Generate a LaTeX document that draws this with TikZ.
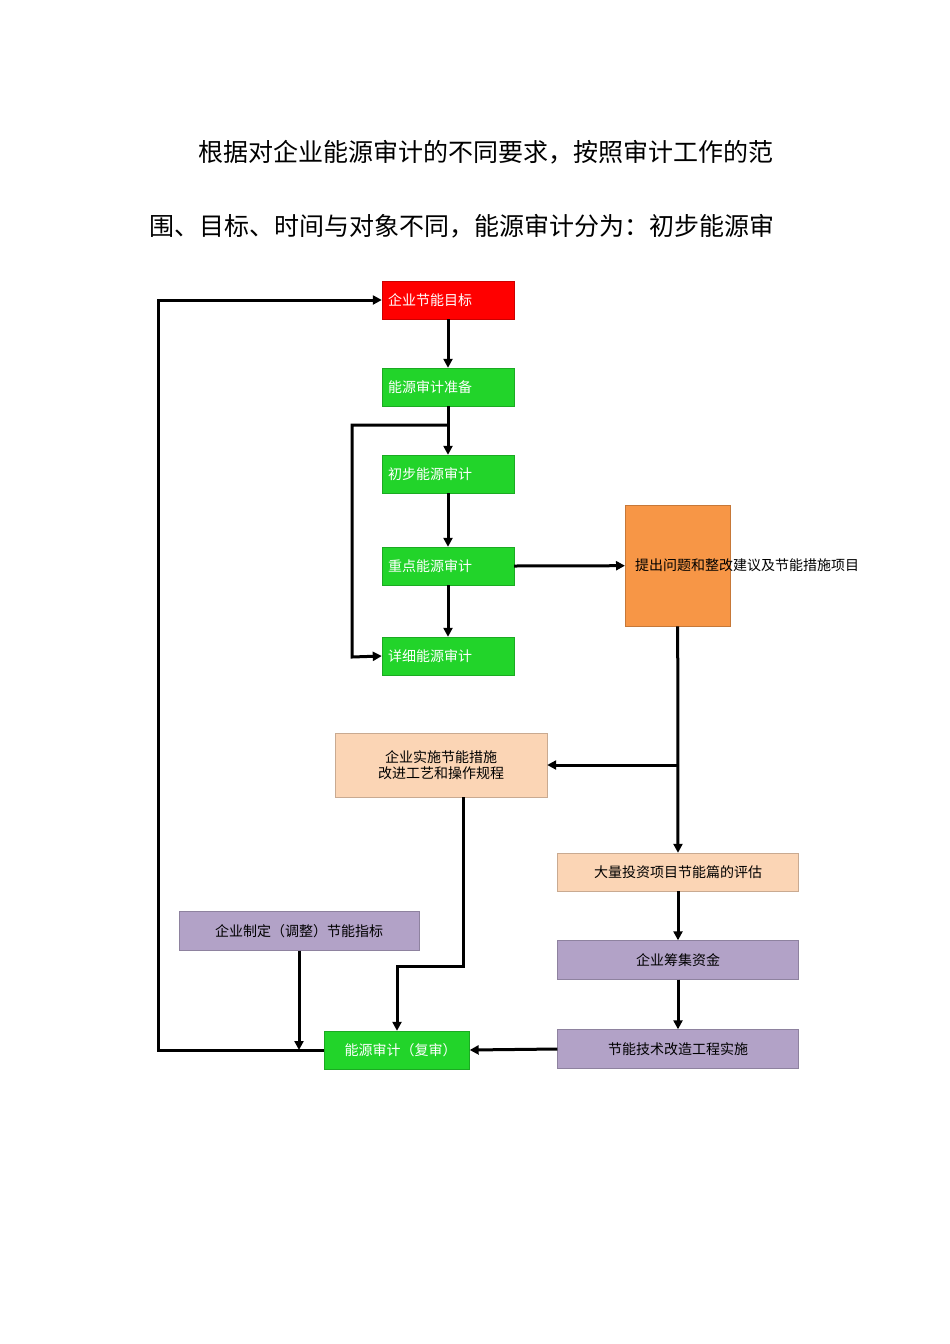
\documentclass[tikz,border=0pt]{standalone}
\usepackage{fontspec}
\setmainfont{Noto Sans CJK SC}
\usetikzlibrary{arrows.meta}
\definecolor{gr}{HTML}{22D42A}
\definecolor{rd}{HTML}{FF0000}
\definecolor{org}{HTML}{F79646}
\definecolor{pch}{HTML}{FBD5B5}
\definecolor{pur}{HTML}{B2A2C7}
\begin{document}
\begin{tikzpicture}[x=1pt,y=-1pt,
 box/.style={draw=#1!80!black,line width=0.4pt,fill=#1,minimum height=38pt,inner sep=3pt,font=\fontsize{14}{16}\selectfont},
 gbox/.style={box=gr,minimum width=132pt,text=white,text width=120pt,align=left},
 arr/.style={line width=3pt,-{Triangle[length=9pt,width=9pt]}},
 ln/.style={line width=3pt}]
\useasboundingbox (0,0) rectangle (950,1344);
\node[anchor=west,font=\fontsize{25}{28}\selectfont] (t1) at (195,152) {根据对企业能源审计的不同要求，按照审计工作的范};
\node[anchor=west,font=\fontsize{25}{28}\selectfont] (t2) at (146,226) {围、目标、时间与对象不同，能源审计分为：初步能源审};
\node[gbox,box=rd,minimum width=132pt,text=white] (a) at (448,300) {企业节能目标};
\node[gbox] (b) at (448,387) {能源审计准备};
\node[gbox] (c) at (448,474) {初步能源审计};
\node[gbox] (d) at (448,566) {重点能源审计};
\node[gbox] (e) at (448,656) {详细能源审计};
\node[box=org,minimum width=105pt,minimum height=121pt,text width=85pt,align=left,anchor=north west,font=\fontsize{14}{18}\selectfont] (f) at (625,505) {提出问题和整改建议及节能措施项目};
\node[box=pch,minimum width=212pt,minimum height=64pt,align=center,text width=200pt] (g) at (441,765) {企业实施节能措施\\改进工艺和操作规程};
\node[box=pch,minimum width=241pt,minimum height=38pt] (h) at (678,872) {大量投资项目节能篇的评估};
\node[box=pur,minimum width=240pt,minimum height=39pt] (i) at (299,931) {企业制定（调整）节能指标};
\node[box=pur,minimum width=241pt,minimum height=39pt] (j) at (678,960) {企业筹集资金};
\node[box=pur,minimum width=241pt,minimum height=39pt] (k) at (678,1049) {节能技术改造工程实施};
\node[box=gr,minimum width=145pt,minimum height=38pt,text=white,text width=105pt,align=left,font=\fontsize{14}{17}\selectfont] (l) at (397,1050) {能源审计（复审）};
\coordinate (p1) at (158,1050);
\coordinate (p2) at (158,300);
\coordinate (q1) at (448,425);
\coordinate (q2) at (352,425);
\coordinate (q3) at (352,657);
\coordinate (r1) at (678,765);
\coordinate (s1) at (463,966);
\coordinate (s2) at (397,966);
\coordinate (u1) at (299,1050);
\draw[arr] (l.west) -- (p1) -- (p2) -- (a.west);
\draw[arr] (a) -- (b);
\draw[arr] (b) -- (c);
\draw[arr] (q1) -- (q2) -- (q3) -- (e.west);
\draw[arr] (c) -- (d);
\draw[arr] (d) -- (e);
\draw[arr] (d.east) -- (f.west);
\draw[arr] (f.south) -- (h.north);
\draw[arr] (r1) -- (g.east);
\draw[arr] (g.south -| s1) -- (s1) -- (s2) -- (l.north -| s2);
\draw[arr] (i) -- (u1);
\draw[arr] (h) -- (j);
\draw[arr] (j) -- (k);
\draw[arr] (k.west) -- (l.east);
\end{tikzpicture}
\end{document}
